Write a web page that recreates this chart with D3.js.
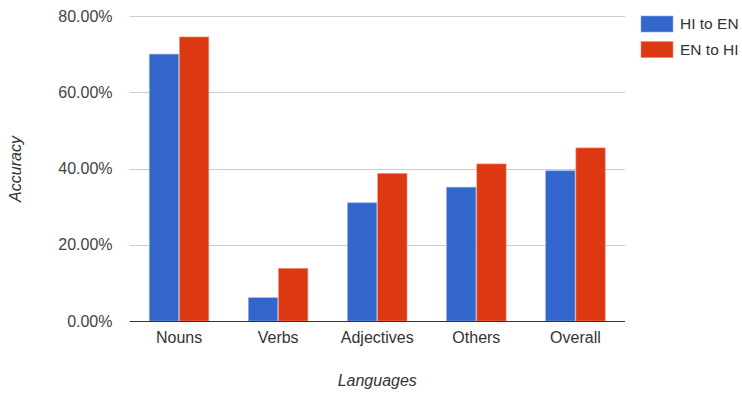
<!DOCTYPE html>
<html><head><meta charset="utf-8">
<script src="https://cdn.jsdelivr.net/npm/d3@7"></script>
<style>body{margin:0;background:#fff}svg{display:block}text{font-family:Arial,"Liberation Sans",sans-serif}</style>
</head><body><svg id="c" width="742" height="393"></svg>
<script>
const categories = ["Nouns","Verbs","Adjectives","Others","Overall"];
const seriesNames = ["HI to EN","EN to HI"];
const hiToEn = [70.0, 6.1, 31.0, 35.1, 39.4];
const enToHi = [74.5, 13.8, 38.7, 41.2, 45.4];
const yTicks = [0, 20, 40, 60, 80];
const colors = ["#3366cc","#dc3912"];

const svg = d3.select("#c");
const L = 129.5, R = 625, T = 16, B = 321;
const FS = 16;
const x = d3.scaleBand().domain(categories).range([L, R]).paddingInner(0.4).paddingOuter(0.2);
const x1 = d3.scaleBand().domain(seriesNames).range([0, x.bandwidth()]).paddingInner(0.03);
const y = d3.scaleLinear().domain([0, 80]).range([B, T]);

// gridlines
svg.append("g").selectAll("line").data(yTicks.filter(d=>d>0)).join("line")
  .attr("x1", L).attr("x2", R).attr("y1", d=>Math.round(y(d))+0.5).attr("y2", d=>Math.round(y(d))+0.5)
  .attr("stroke", "#cccccc");

const yAxis = svg.append("g").attr("transform", `translate(${L},0)`)
  .call(d3.axisLeft(y).tickValues(yTicks).tickSize(0).tickPadding(17).tickFormat(d=>d.toFixed(2)+"%"));
yAxis.select(".domain").remove();
yAxis.selectAll("text").attr("font-size", FS).attr("fill", "#444");

const data = categories.map((c,i)=>({c, v:[hiToEn[i], enToHi[i]]}));
const g = svg.append("g").selectAll("g").data(data).join("g").attr("transform", d=>`translate(${x(d.c)},0)`);
g.selectAll("rect").data(d=>d.v.map((v,j)=>({v, s:seriesNames[j], j}))).join("rect")
  .attr("x", d=>x1(d.s)).attr("width", x1.bandwidth())
  .attr("y", d=>y(d.v)).attr("height", d=>B - y(d.v))
  .attr("fill", d=>colors[d.j]).attr("stroke", d=>d.j?"#f08a70":"#8aa8e6").attr("stroke-width", 0.6);

// baseline
svg.append("line").attr("x1", L).attr("x2", R).attr("y1", B+0.5).attr("y2", B+0.5).attr("stroke", "#333");

const xAxis = svg.append("g").attr("transform", `translate(0,${B})`)
  .call(d3.axisBottom(x).tickSize(0).tickPadding(11));
xAxis.select(".domain").remove();
xAxis.selectAll("text").attr("font-size", FS).attr("fill", "#333");

svg.append("text").attr("x", (L+R)/2).attr("y", 386).attr("text-anchor","middle")
  .attr("font-size", FS).attr("font-style","italic").attr("fill","#333").text("Languages");
svg.append("text").attr("transform", `translate(21,169) rotate(-90)`).attr("text-anchor","middle")
  .attr("font-size", FS).attr("font-style","italic").attr("fill","#333").text("Accuracy");

// legend
const lg = svg.append("g").selectAll("g").data(seriesNames).join("g")
  .attr("transform", (d,i)=>`translate(641,${16 + i*25.6})`);
lg.append("rect").attr("width", 32).attr("height", 16).attr("fill", (d,i)=>colors[i])
  .attr("stroke", (d,i)=>i?"#f08a70":"#8aa8e6").attr("stroke-width",0.6);
lg.append("text").attr("x", 39).attr("y", 13.3).attr("font-size", 15.5).attr("fill","#333").text(d=>d);
</script></body></html>
